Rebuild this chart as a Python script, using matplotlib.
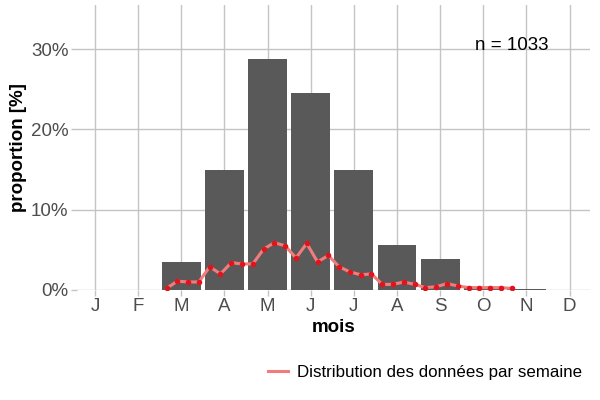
import numpy as np
import matplotlib
matplotlib.use("Agg")
import matplotlib.pyplot as plt

plt.rcParams['font.family'] = ['Liberation Sans', 'DejaVu Sans']

# monthly proportions (%)
mois = ['J', 'F', 'M', 'A', 'M', 'J', 'J', 'A', 'S', 'O', 'N', 'D']
prop_mois = [0.05, 0.0, 3.5, 15.0, 28.8, 24.5, 15.0, 5.6, 3.9, 0.3, 0.1, 0.0]

# weekly proportions (%), first week starts near mid-March
semaine_debut = 2.66
prop_semaine = [0.2, 1.1, 1.0, 1.0, 2.9, 2.0, 3.4, 3.25, 3.25, 5.1, 5.9, 5.5,
                4.0, 5.8, 3.5, 4.3, 2.9, 2.25, 1.9, 2.0, 0.7, 0.7, 1.0, 0.7,
                0.3, 0.4, 0.8, 0.5, 0.3, 0.3, 0.3, 0.3, 0.2]
n_total = 1033

x_mois = np.arange(1, len(mois) + 1)
x_sem = semaine_debut + 0.25 * np.arange(len(prop_semaine))

fig = plt.figure(figsize=(6, 4), dpi=100)
ax = fig.add_axes([0.128, 0.275, 0.855, 0.7125])

grid_col = '#c4c4c4'
ax.set_axisbelow(True)
ax.grid(True, color=grid_col, linewidth=1.0)

ax.bar(x_mois, prop_mois, width=0.9, color='#595959', zorder=2)
line, = ax.plot(x_sem, prop_semaine, color='#f27c7c', linewidth=2.2, zorder=3,
                label='Distribution des données par semaine')
ax.plot(x_sem, prop_semaine, 'o', color='#e0141c', markersize=3, zorder=4)

ax.text(10.67, 30.5, 'n = %d' % n_total, fontsize=13.5, ha='center', va='center')

ax.set_xlim(0.58, 12.47)
ax.set_ylim(0, 35.5)
ax.set_xticks(x_mois)
ax.set_xticklabels(mois)
ax.set_yticks([0, 10, 20, 30])
ax.set_yticklabels(['0%', '10%', '20%', '30%'])
ax.tick_params(axis='both', colors=grid_col, labelcolor='#4d4d4d',
               labelsize=13.5, length=4, width=1, pad=2)
for s in ax.spines.values():
    s.set_visible(False)

ax.set_xlabel('mois', fontsize=13.5, fontweight='bold', labelpad=3)
ax.set_ylabel('proportion [%]', fontsize=13.5, fontweight='bold', labelpad=3)

fig.legend(handles=[line], loc='center right', bbox_to_anchor=(0.995, 0.07),
           frameon=False, fontsize=12.2, handlelength=1.2, handletextpad=0.5)

fig.savefig('out.png', dpi=100)
